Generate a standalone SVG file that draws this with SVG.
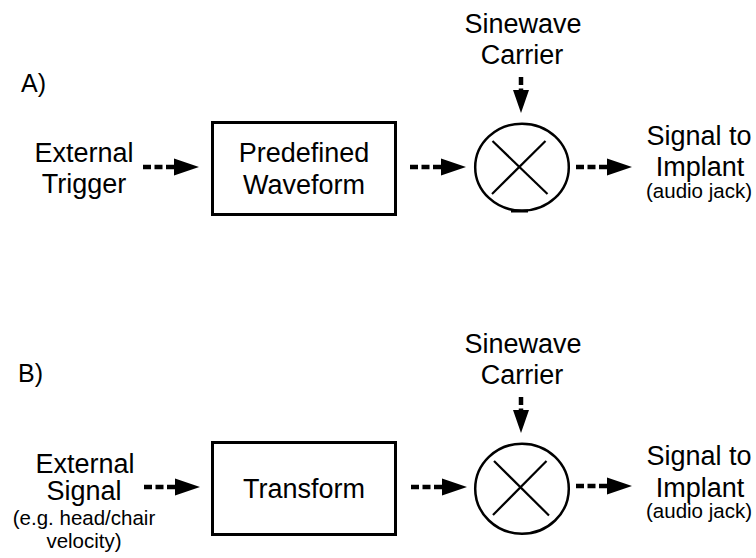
<svg xmlns="http://www.w3.org/2000/svg" width="756" height="558" viewBox="0 0 756 558">
  <defs>
    <style>
      text { font-family: "Liberation Sans", Arial, sans-serif; fill: #000; }
      .lbl { font-size: 27px; text-anchor: middle; }
      .sm { font-size: 20.5px; text-anchor: middle; }
      .tag { font-size: 25px; }
      .box { fill: #fff; stroke: #000; stroke-width: 3; }
      .mix { fill: #fff; stroke: #000; stroke-width: 2.5; }
      .cross { stroke: #000; stroke-width: 2.2; }
      .dash { stroke: #000; stroke-width: 4.5; stroke-dasharray: 8 3.5; fill: none; }
      .head { fill: #000; }
    </style>
    <!-- horizontal dashed arrow, origin at the tail, pointing right -->
    <g id="harrow">
      <line class="dash" x1="0" y1="0" x2="31" y2="0"/>
      <polygon class="head" points="31,-8.5 56,0 31,8.5"/>
    </g>
    <!-- vertical dashed arrow, origin at the tail, pointing down -->
    <g id="varrow">
      <line class="dash" x1="0" y1="0" x2="0" y2="14"/>
      <polygon class="head" points="-8,13 0,36 8,13"/>
    </g>
  </defs>
  <rect width="756" height="558" fill="#fff"/>

  <!-- Panel A -->
  <text id="labelA" class="tag" x="21" y="92">A)</text>

  <g id="a-trigger">
    <text class="lbl" x="84" y="162">External</text>
    <text class="lbl" x="84" y="193">Trigger</text>
  </g>

  <g id="a-waveform">
    <rect class="box" x="212.5" y="122.5" width="183" height="92"/>
    <text class="lbl" x="304" y="162">Predefined</text>
    <text class="lbl" x="304" y="194">Waveform</text>
  </g>

  <g id="a-carrier">
    <text class="lbl" x="523" y="33">Sinewave</text>
    <text class="lbl" x="522" y="64">Carrier</text>
  </g>

  <g id="a-mixer">
    <ellipse class="mix" cx="522" cy="167.2" rx="46.8" ry="43.5"/>
    <line class="cross" x1="492.5" y1="141" x2="547.5" y2="194"/>
    <line class="cross" x1="545.5" y1="141" x2="492" y2="194"/>
    <line x1="511" y1="211" x2="528" y2="211" stroke="#000" stroke-width="3"/>
  </g>

  <g id="a-output">
    <text class="lbl" x="699" y="145">Signal to</text>
    <text class="lbl" x="700" y="176">Implant</text>
    <text class="sm" x="699" y="198">(audio jack)</text>
  </g>

  <g id="a-connectors">
    <use href="#harrow" x="143" y="167"/>
    <use href="#harrow" x="410" y="167"/>
    <use href="#harrow" x="576" y="167"/>
    <use href="#varrow" x="521" y="77"/>
  </g>

  <!-- Panel B -->
  <text id="labelB" class="tag" x="18" y="382">B)</text>

  <g id="b-signal">
    <text class="lbl" x="85" y="473">External</text>
    <text class="lbl" x="84" y="500">Signal</text>
    <text class="sm" x="84" y="525">(e.g. head/chair</text>
    <text class="sm" x="84" y="548">velocity)</text>
  </g>

  <g id="b-transform">
    <rect class="box" x="212.5" y="442.5" width="183" height="92"/>
    <text class="lbl" x="304" y="498">Transform</text>
  </g>

  <g id="b-carrier">
    <text class="lbl" x="523" y="353">Sinewave</text>
    <text class="lbl" x="522" y="384">Carrier</text>
  </g>

  <g id="b-mixer">
    <ellipse class="mix" cx="522" cy="488.7" rx="46.8" ry="45"/>
    <line class="cross" x1="494" y1="461" x2="549" y2="515.5"/>
    <line class="cross" x1="546.5" y1="461" x2="493" y2="515"/>
  </g>

  <g id="b-output">
    <text class="lbl" x="699" y="465">Signal to</text>
    <text class="lbl" x="700" y="497">Implant</text>
    <text class="sm" x="699" y="518">(audio jack)</text>
  </g>

  <g id="b-connectors">
    <use href="#harrow" x="144" y="487"/>
    <use href="#harrow" x="411" y="487"/>
    <use href="#harrow" x="576" y="486"/>
    <use href="#varrow" x="521" y="397"/>
  </g>
</svg>
